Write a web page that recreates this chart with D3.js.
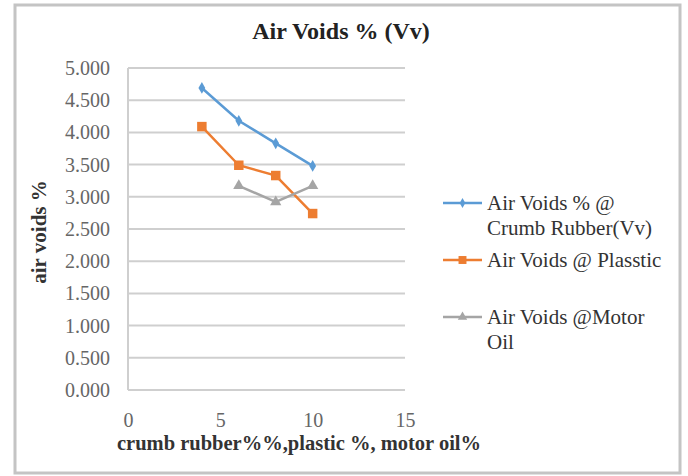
<!DOCTYPE html>
<html><head><meta charset="utf-8">
<script src="https://cdn.jsdelivr.net/npm/d3@7"></script>
<style>body{margin:0;background:#fff;}svg{display:block;}</style>
</head><body>
<script>
const xCrumb = [4, 6, 8, 10];
const crumb = [4.69, 4.18, 3.83, 3.48];
const xPlastic = [4, 6, 8, 10];
const plastic = [4.09, 3.49, 3.33, 2.74];
const xOil = [6, 8, 10];
const oil = [3.17, 2.92, 3.17];
const yTicks = [0, 0.5, 1, 1.5, 2, 2.5, 3, 3.5, 4, 4.5, 5];
const xTicks = [0, 5, 10, 15];
const seriesNames = [["Air Voids % @", "Crumb Rubber(Vv)"], ["Air Voids @ Plasstic"], ["Air Voids @Motor", "Oil"]];
const colors = ["#5b9bd5", "#ed7d31", "#a5a5a5"];

const W = 688, H = 476;
const svg = d3.select("body").append("svg").attr("width", W).attr("height", H);
svg.append("rect").attr("x", 15).attr("y", 5).attr("width", 665).attr("height", 468)
  .attr("fill", "#fff").attr("stroke", "#c4c4c4").attr("stroke-width", 3);

const serif = "'Liberation Serif','Times New Roman',serif";
svg.append("text").attr("x", 341).attr("y", 39).attr("text-anchor", "middle")
  .attr("font-family", serif).attr("font-weight", "bold").attr("font-size", 24).attr("fill", "#222")
  .text("Air Voids % (Vv)");

const x = d3.scaleLinear().domain([0, 15]).range([128, 405]);
const y = d3.scaleLinear().domain([0, 5]).range([390, 68]);

svg.append("g").selectAll("line").data(yTicks).join("line")
  .attr("x1", 128).attr("x2", 405).attr("y1", d => y(d)).attr("y2", d => y(d))
  .attr("stroke", "#cfcfcf").attr("stroke-width", 2);
svg.append("line").attr("x1", 128).attr("x2", 128).attr("y1", 68).attr("y2", 390)
  .attr("stroke", "#cfcfcf").attr("stroke-width", 2);

const yAxis = svg.append("g").attr("transform", "translate(128,0)")
  .call(d3.axisLeft(y).tickValues(yTicks).tickFormat(d3.format(".3f")).tickSize(0).tickPadding(18));
const xAxis = svg.append("g").attr("transform", "translate(0,390)")
  .call(d3.axisBottom(x).tickValues(xTicks).tickFormat(d3.format("d")).tickSize(0).tickPadding(23));
[yAxis, xAxis].forEach(a => {
  a.select(".domain").remove();
  a.selectAll("text").attr("font-family", serif).attr("font-size", 20).attr("fill", "#666");
});

svg.append("text").attr("transform", "translate(46,232) rotate(-90)").attr("text-anchor", "middle")
  .attr("font-family", serif).attr("font-weight", "bold").attr("font-size", 21).attr("fill", "#333")
  .text("air voids %");
svg.append("text").attr("x", 117).attr("y", 450)
  .attr("font-family", serif).attr("font-weight", "bold").attr("font-size", 20.5).attr("fill", "#333")
  .text("crumb rubber%%,plastic %, motor oil%");

const line = d3.line().x(d => x(d[0])).y(d => y(d[1]));
const series = [d3.zip(xCrumb, crumb), d3.zip(xPlastic, plastic), d3.zip(xOil, oil)];
const sym = [d3.symbolDiamond, d3.symbolSquare, d3.symbolTriangle];
const symSize = [40, 90, 55];
series.forEach((s, i) => {
  svg.append("path").datum(s).attr("d", line).attr("fill", "none")
    .attr("stroke", colors[i]).attr("stroke-width", 2.5);
  svg.append("g").selectAll("path").data(s).join("path")
    .attr("transform", d => `translate(${x(d[0])},${y(d[1])})`)
    .attr("d", d3.symbol(sym[i], symSize[i])).attr("fill", colors[i]);
});

const legY = [203, 260, 317];
seriesNames.forEach((names, i) => {
  const g = svg.append("g").attr("transform", `translate(443,${legY[i]})`);
  g.append("line").attr("x1", 0).attr("x2", 39).attr("stroke", colors[i]).attr("stroke-width", 2.5);
  g.append("path").attr("transform", "translate(19.5,0)").attr("d", d3.symbol(sym[i], symSize[i] * 0.7)).attr("fill", colors[i]);
  names.forEach((n, j) => {
    g.append("text").attr("x", 44).attr("y", 7 + j * 25)
      .attr("font-family", serif).attr("font-size", 21).attr("fill", "#333").text(n);
  });
});
</script>
</body></html>
